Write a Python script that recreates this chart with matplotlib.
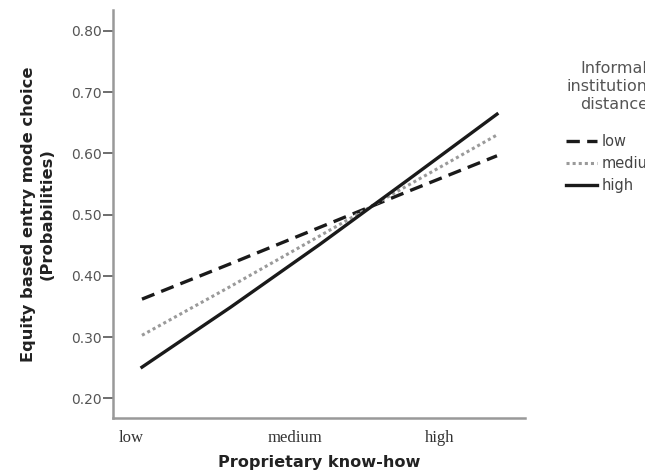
import matplotlib
matplotlib.use("Agg")
import matplotlib.pyplot as plt

# position along proprietary know-how (0 = line start, 1 = line end)
know_how = [0.0, 0.25, 0.5, 0.75, 1.0]
prob_low = [0.362, 0.420, 0.479, 0.538, 0.596]
prob_medium = [0.303, 0.383, 0.465, 0.548, 0.630]
prob_high = [0.251, 0.349, 0.451, 0.557, 0.664]

x_tick_pos = [-0.03, 0.431, 0.839]
x_tick_labels = ["low", "medium", "high"]
y_ticks = [0.20, 0.30, 0.40, 0.50, 0.60, 0.70, 0.80]

fig = plt.figure(figsize=(6.45, 4.75), dpi=100)
ax = fig.add_axes([0.175, 0.12, 0.639, 0.859])

ax.plot(know_how, prob_low, color="#1a1a1a", lw=2.4, linestyle=(0, (4, 2.2)), label="low")
ax.plot(know_how, prob_medium, color="#9a9a9a", lw=2.2, linestyle=(0, (1, 1)), label="medium")
ax.plot(know_how, prob_high, color="#1a1a1a", lw=2.4, label="high")

ax.set_xlim(-0.082, 1.079)
ax.set_ylim(0.168, 0.834)

for side in ["top", "right"]:
    ax.spines[side].set_visible(False)
for side in ["left", "bottom"]:
    ax.spines[side].set_color("#999999")
    ax.spines[side].set_linewidth(1.8)

ax.set_yticks(y_ticks)
ax.set_yticklabels([f"{v:.2f}" for v in y_ticks], fontsize=10, color="#555555")
ax.tick_params(axis="y", length=7, width=1.2, color="#555555", pad=1)

ax.set_xticks(x_tick_pos)
ax.set_xticklabels(x_tick_labels, family="Liberation Serif", fontsize=12, color="#333333")
ax.tick_params(axis="x", length=0, pad=9)

ax.set_xlabel("Proprietary know-how", fontsize=11.6, fontweight="bold", color="#222222", labelpad=6)
ax.set_ylabel("Equity based entry mode choice\n(Probabilities)", fontsize=11.7,
              fontweight="bold", color="#222222", labelpad=12, linespacing=1.25)

leg = ax.legend(loc="upper left", bbox_to_anchor=(1.085, 0.89), frameon=False,
                title="Informal\ninstitutional\ndistance", fontsize=10.5,
                handlelength=2.1, handletextpad=0.35, labelspacing=0.5,
                borderaxespad=0)
leg.get_title().set_fontsize(11.5)
leg.get_title().set_color("#555555")
leg.get_title().set_multialignment("center")
leg.get_title().set_linespacing(1.25)
leg._legend_box.sep = 16
for t in leg.get_texts():
    t.set_color("#444444")

fig.savefig("out.png", dpi=100)
